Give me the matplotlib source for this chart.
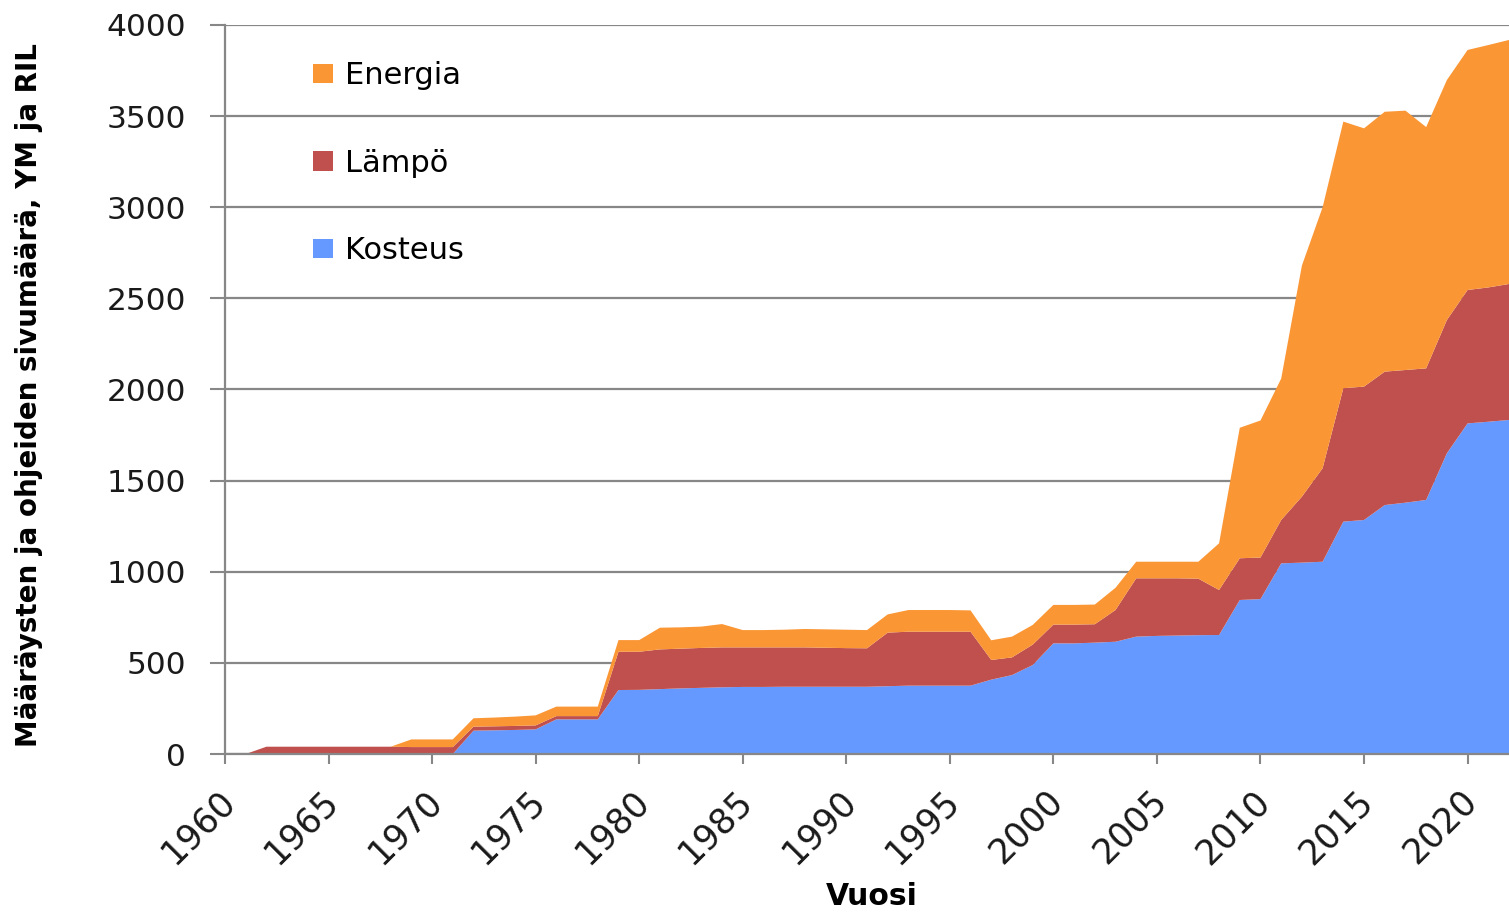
import matplotlib
matplotlib.use("Agg")
import matplotlib.pyplot as plt
import matplotlib.transforms as mtransforms
from matplotlib.patches import Patch

# Page counts of building regulations and guidelines per year
years = list(range(1960, 2023))

kosteus = [0, 0, 0, 0, 0, 0, 0, 0, 0, 0,
           0, 0, 128, 130, 132, 135, 190, 190, 190, 351,
           352, 356, 360, 363, 366, 368, 368, 369, 369, 369,
           369, 369, 372, 375, 375, 375, 375, 408, 433, 488,
           607, 607, 611, 616, 644, 648, 650, 652, 653, 845,
           850, 1046, 1050, 1055, 1275, 1284, 1366, 1379, 1394, 1650,
           1814, 1823, 1833]

lampo = [0, 0, 40, 40, 40, 40, 40, 40, 40, 38,
         38, 38, 22, 22, 22, 22, 18, 18, 18, 210,
         209, 218, 218, 219, 219, 217, 217, 216, 216, 214,
         212, 211, 294, 296, 296, 296, 296, 108, 97, 112,
         103, 103, 101, 174, 320, 316, 314, 310, 247, 229,
         228, 238, 362, 513, 732, 732, 732, 728, 722, 731,
         732, 737, 746]

energia = [0, 0, 0, 0, 0, 0, 0, 0, 0, 42,
           42, 42, 46, 48, 51, 55, 52, 52, 52, 64,
           64, 119, 117, 117, 128, 95, 95, 97, 101, 101,
           101, 100, 100, 119, 119, 119, 117, 108, 114, 108,
           108, 108, 108, 122, 91, 91, 91, 93, 256, 716,
           752, 776, 1268, 1432, 1463, 1417, 1426, 1423, 1324, 1317,
           1317, 1330, 1339]

series_labels = ["Kosteus", "Lämpö", "Energia"]
series_colors = ["#6699FF", "#C0504D", "#FB9634"]

y_ticks = list(range(0, 4001, 500))
x_ticks = list(range(1960, 2021, 5))

W, H = 1509, 916
fig = plt.figure(figsize=(W / 100, H / 100), dpi=100)
ax = fig.add_axes([225 / W, (H - 754) / H, (W - 225) / W, 729 / H])

ax.stackplot(years, kosteus, lampo, energia,
             colors=series_colors, labels=series_labels, linewidth=0)

ax.set_xlim(1960, 2022)
ax.set_ylim(0, 4000)
ax.set_yticks(y_ticks)
ax.set_xticks(x_ticks)

grey = "#878787"
ax.grid(axis="y", color=grey, linewidth=1.6)
ax.set_axisbelow(True)
for side in ["top", "right"]:
    ax.spines[side].set_visible(False)
for side in ["left", "bottom"]:
    ax.spines[side].set_color(grey)
    ax.spines[side].set_linewidth(1.6)

ax.tick_params(axis="y", length=11, width=1.5, color=grey, pad=17,
               labelsize=22.5, labelcolor="#1a1a1a")
ax.tick_params(axis="x", length=7, width=1.5, color=grey, pad=23,
               labelsize=25, labelcolor="#1a1a1a")

shift = mtransforms.ScaledTranslation(0.04, 0, fig.dpi_scale_trans)
for lbl in ax.get_xticklabels():
    lbl.set_rotation(45)
    lbl.set_ha("right")
    lbl.set_va("center")
    lbl.set_rotation_mode("anchor")
    lbl.set_transform(lbl.get_transform() + shift)

ax.set_xlabel("Vuosi", fontsize=21.5, fontweight="bold", va="center")
ax.xaxis.set_label_coords(0.504, -0.195)

ax.set_ylabel("Määräysten ja ohjeiden sivumäärä, YM ja RIL",
              fontsize=20, fontweight="bold",
              va="center", ha="center")
ax.yaxis.set_label_coords(-0.153, 0.4925)

# Legend lists the top layer first
handles = [Patch(facecolor=c, edgecolor="none") for c in series_colors][::-1]
ax.legend(handles, series_labels[::-1], loc="upper left",
          bbox_to_anchor=(0.0685, 0.950), frameon=False, fontsize=22,
          borderpad=0, borderaxespad=0, labelspacing=1.91,
          handlelength=0.65, handleheight=0.6, handletextpad=0.4)

fig.savefig("out.png", dpi=100)
